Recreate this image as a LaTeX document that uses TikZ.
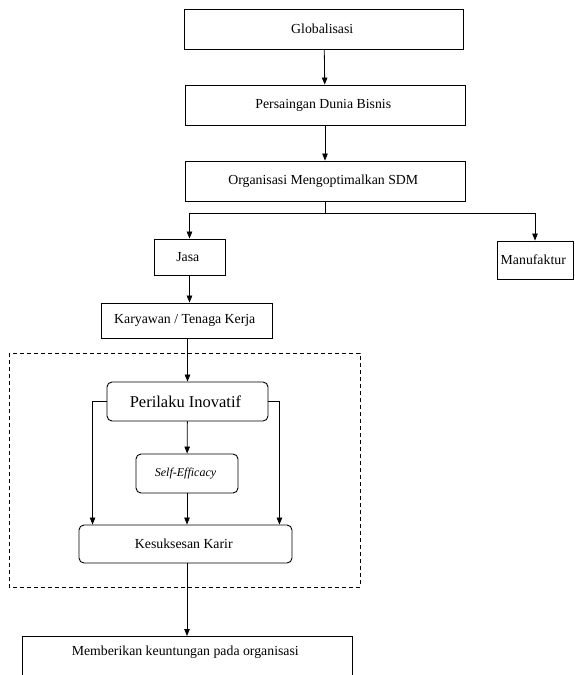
\documentclass[tikz,border=0pt]{standalone}
\usepackage{fontspec}
\setmainfont{Liberation Serif}
\usetikzlibrary{arrows.meta}

\begin{document}
\begin{tikzpicture}[x = 1pt, y = -1pt, >= {Triangle[length = 7pt, width = 5.5pt]},
    every node/.style = { draw, line width = .9pt, align = center, inner sep = 0pt,
      font = \fontsize{13.8}{16}\selectfont },
    bulat/.style = { rounded corners = 5pt },
    panah/.style = { ->, line width = .8pt }]
  \useasboundingbox (0,0) rectangle (574,675);

  \node [minimum width = 279, minimum height = 40] (glob) at (324,29) { Globalisasi };
  \node [minimum width = 280, minimum height = 40] (saing) at (325,105) { Persaingan Dunia Bisnis };
  \node [minimum width = 280, minimum height = 40] (org) at (325,181) { Organisasi Mengoptimalkan SDM };
  \node [minimum width = 71, minimum height = 36] (jasa) at (189.5,257) { Jasa };
  \node [minimum width = 76, minimum height = 38] (manuf) at (535,260) { Manufaktur };
  \node [minimum width = 171, minimum height = 35] (kary) at (186.5,320.5) { Karyawan / Tenaga Kerja };

  % kotak putus-putus
  \draw [dashed, line width = .8pt, dash pattern = on 4pt off 3pt] (9,353) rectangle (360,587);

  \node [bulat, minimum width = 161, minimum height = 39, font = \fontsize{16.5}{18}\selectfont]
    (inov) at (187.5,401.5) { Perilaku Inovatif };
  \node [bulat, minimum width = 102, minimum height = 39, font = \fontsize{12}{14}\selectfont\itshape]
    (self) at (187,473.5) { Self-Efficacy };
  \node [bulat, minimum width = 213, minimum height = 38] (karir) at (185.5,544) { Kesuksesan Karir };
  \node [anchor = north, minimum width = 330, inner ysep = 10pt, text height = 9pt, text depth = 40pt]
    (untung) at (187,636) { Memberikan keuntungan pada organisasi };

  \draw [panah] (glob) -- (saing);
  \draw [panah] (saing) -- (org);
  \draw [panah] (org.south) -- ++(0,12) -| (jasa.north);
  \draw [panah] (org.south) -- ++(0,12) -| (manuf.north);
  \draw [panah] (jasa) -- (jasa |- kary.north);
  \draw [panah] (kary.south -| inov.north) -- (inov.north);
  \draw [panah] (inov) -- (self);
  \draw [panah] (self) -- (self |- karir.north);
  \draw [panah] (inov.west) -| ([xshift = 14pt]karir.north west);
  \draw [panah] (inov.east) -| ([xshift = -13pt]karir.north east);
  \draw [panah] (karir.south -| untung.north) -- (untung.north);
\end{tikzpicture}
\end{document}
